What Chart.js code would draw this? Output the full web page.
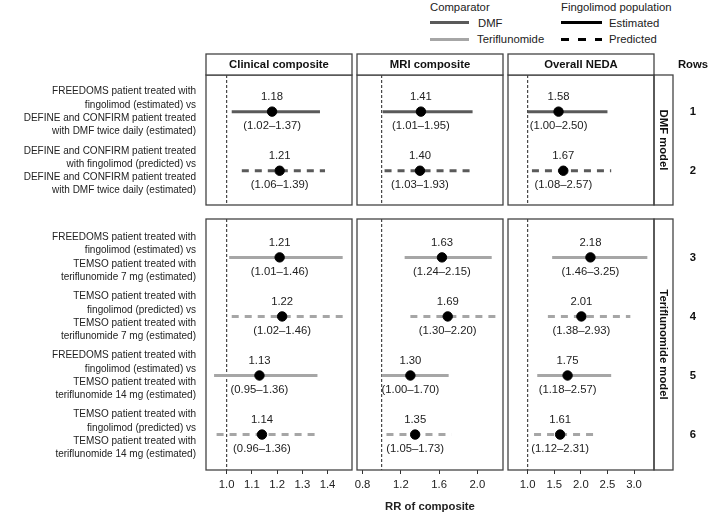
<!DOCTYPE html>
<html>
<head>
<meta charset="utf-8">
<script src="https://cdn.jsdelivr.net/npm/chart.js@4"></script>
<style>
  body { margin: 0; background: #fff; }
  #wrap { position: relative; width: 710px; height: 515px; font-family: 'Liberation Sans', Arial, sans-serif; color: #222; }
  #wrap canvas { position: absolute; }
  .lg { position: absolute; font-size: 11.3px; line-height: 14px; white-space: nowrap; }
  .ln { position: absolute; height: 3px; }
</style>
</head>
<body>
<div id="wrap">
  <div class="lg" style="left:430px; top:0px;">Comparator</div>
  <div class="ln" style="left:430px; top:21px; width:39px; background:#5a5a5a;"></div>
  <div class="lg" style="left:478px; top:16px;">DMF</div>
  <div class="ln" style="left:430px; top:38px; width:39px; background:#a6a6a6;"></div>
  <div class="lg" style="left:477px; top:32px;">Teriflunomide</div>
  <div class="lg" style="left:561px; top:0px;">Fingolimod population</div>
  <div class="ln" style="left:561px; top:21px; width:41px; background:#000;"></div>
  <div class="lg" style="left:609px; top:16px;">Estimated</div>
  <div class="ln" style="left:561px; top:38px; width:41px; background:repeating-linear-gradient(90deg,#000 0 8px,transparent 8px 17px);"></div>
  <div class="lg" style="left:609px; top:32px;">Predicted</div>
</div>
<script>
// rows of the forest plot
const categories = [
  ['FREEDOMS patient treated with', 'fingolimod (estimated) vs', 'DEFINE and CONFIRM patient treated', 'with DMF twice daily (estimated)'],
  ['DEFINE and CONFIRM patient treated', 'with fingolimod (predicted) vs', 'DEFINE and CONFIRM patient treated', 'with DMF twice daily (estimated)'],
  ['FREEDOMS patient treated with', 'fingolimod (estimated) vs', 'TEMSO patient treated with', 'teriflunomide 7 mg (estimated)'],
  ['TEMSO patient treated with', 'fingolimod (predicted) vs', 'TEMSO patient treated with', 'teriflunomide 7 mg (estimated)'],
  ['FREEDOMS patient treated with', 'fingolimod (estimated) vs', 'TEMSO patient treated with', 'teriflunomide 14 mg (estimated)'],
  ['TEMSO patient treated with', 'fingolimod (predicted) vs', 'TEMSO patient treated with', 'teriflunomide 14 mg (estimated)']
];
const rowNumbers = ['1', '2', '3', '4', '5', '6'];
const comparator = ['DMF', 'DMF', 'Teriflunomide', 'Teriflunomide', 'Teriflunomide', 'Teriflunomide'];
const population = ['Estimated', 'Predicted', 'Estimated', 'Predicted', 'Estimated', 'Predicted'];
const facets = ['DMF model', 'Teriflunomide model'];
const facetRows = [[0, 1], [2, 3, 4, 5]];

const panels = ['Clinical composite', 'MRI composite', 'Overall NEDA'];
const clinicalRR   = [1.18, 1.21, 1.21, 1.22, 1.13, 1.14];
const clinicalLow  = [1.02, 1.06, 1.01, 1.02, 0.95, 0.96];
const clinicalHigh = [1.37, 1.39, 1.46, 1.46, 1.36, 1.36];
const mriRR   = [1.41, 1.40, 1.63, 1.69, 1.30, 1.35];
const mriLow  = [1.01, 1.03, 1.24, 1.30, 1.00, 1.05];
const mriHigh = [1.95, 1.93, 2.15, 2.20, 1.70, 1.73];
const nedaRR   = [1.58, 1.67, 2.18, 2.01, 1.75, 1.61];
const nedaLow  = [1.00, 1.08, 1.46, 1.38, 1.18, 1.12];
const nedaHigh = [2.50, 2.57, 3.25, 2.93, 2.57, 2.31];

const clinicalTicks = [1.0, 1.1, 1.2, 1.3, 1.4];
const mriTicks = [0.8, 1.2, 1.6, 2.0];
const nedaTicks = [1.0, 1.5, 2.0, 2.5, 3.0];
const referenceRR = 1;
const xTitle = 'RR of composite';

const colours = { 'DMF': '#5a5a5a', 'Teriflunomide': '#a6a6a6' };
const dashes = { 'Estimated': [], 'Predicted': [7, 6] };

Chart.defaults.font.family = "'Liberation Sans', Arial, sans-serif";
Chart.defaults.color = '#222';

const columns = [
  { rr: clinicalRR, low: clinicalLow, high: clinicalHigh, ticks: clinicalTicks, min: 0.918, max: 1.497, left: 0, width: 353, pad: { left: 0, right: 1 } },
  { rr: mriRR, low: mriLow, high: mriHigh, ticks: mriTicks, min: 0.742, max: 2.268, left: 350, width: 156, pad: { left: 7, right: 3 } },
  { rr: nedaRR, low: nedaLow, high: nedaHigh, ticks: nedaTicks, min: 0.63, max: 3.375, left: 507, width: 203, pad: { left: 1, right: 56 } }
];
const facetBoxes = [
  { top: 53, height: 153, pad: { top: 22, bottom: 1 }, yMin: -0.62, yMax: 1.58 },
  { top: 218, height: 297, pad: { top: 1, bottom: 20 }, yMin: -0.65, yMax: 3.6 }
];

const wrap = document.getElementById('wrap');

// panel border, strips, value labels
const decor = {
  id: 'decor',
  afterDatasetsDraw(chart, args, o) {
    const ctx = chart.ctx;
    const a = chart.chartArea;
    const xs = chart.scales.x, ys = chart.scales.y;
    const col = columns[o.col];
    ctx.save();
    ctx.fillStyle = '#222';
    ctx.font = '11.3px ' + Chart.defaults.font.family;
    ctx.textAlign = 'center';
    ctx.textBaseline = 'middle';
    facetRows[o.facet].forEach((r, i) => {
      const px = xs.getPixelForValue(col.rr[r]);
      const py = ys.getPixelForValue(i);
      ctx.fillText(col.rr[r].toFixed(2), px, py - 14.5);
      ctx.fillText('(' + col.low[r].toFixed(2) + '\u2013' + col.high[r].toFixed(2) + ')', px, py + 14.5);
    });
    ctx.strokeStyle = '#444';
    ctx.lineWidth = 1.3;
    ctx.strokeRect(a.left, a.top, a.right - a.left, a.bottom - a.top);
    const bold = 'bold 11.3px ' + Chart.defaults.font.family;
    if (o.facet === 0) {
      ctx.fillStyle = '#fff';
      ctx.fillRect(a.left, a.top - 21, a.right - a.left, 21);
      ctx.strokeRect(a.left, a.top - 21, a.right - a.left, 21);
      ctx.fillStyle = '#111';
      ctx.font = bold;
      ctx.fillText(panels[o.col], (a.left + a.right) / 2, a.top - 10.5);
    }
    if (o.col === 2) {
      ctx.strokeRect(a.right, a.top, 19, a.bottom - a.top);
      ctx.fillStyle = '#111';
      ctx.font = bold;
      ctx.save();
      ctx.translate(a.right + 9.5, (a.top + a.bottom) / 2);
      ctx.rotate(Math.PI / 2);
      ctx.fillText(facets[o.facet], 0, 0);
      ctx.restore();
      facetRows[o.facet].forEach((r, i) => {
        ctx.fillText(rowNumbers[r], a.right + 39, ys.getPixelForValue(i));
      });
      if (o.facet === 0) ctx.fillText('Rows', a.right + 39, a.top - 10);
    }
    if (o.col === 1 && o.facet === 1) {
      ctx.font = bold;
      ctx.fillText(xTitle, (a.left + a.right) / 2, 289);
    }
    ctx.restore();
  }
};

function makeChart(c, f) {
  const col = columns[c], box = facetBoxes[f];
  const canvas = document.createElement('canvas');
  canvas.width = col.width;
  canvas.height = box.height;
  canvas.style.left = col.left + 'px';
  canvas.style.top = box.top + 'px';
  wrap.appendChild(canvas);

  const rows = facetRows[f];
  const datasets = [{
    type: 'scatter',
    data: rows.map((r, i) => ({ x: col.rr[r], y: i })),
    backgroundColor: '#000', borderColor: '#000',
    pointRadius: 4.7, pointHoverRadius: 4.7, order: 0
  }];
  rows.forEach((r, i) => {
    datasets.push({
      type: 'line',
      data: [{ x: col.low[r], y: i }, { x: col.high[r], y: i }],
      borderColor: colours[comparator[r]],
      borderDash: dashes[population[r]],
      borderWidth: 3, pointRadius: 0, order: 1
    });
  });
  datasets.push({
    type: 'line',
    data: [{ x: referenceRR, y: box.yMin }, { x: referenceRR, y: box.yMax }],
    borderColor: '#222', borderDash: [3, 2], borderWidth: 1, pointRadius: 0, order: 2
  });

  new Chart(canvas, {
    type: 'scatter',
    data: { datasets },
    options: {
      responsive: false,
      animation: false,
      events: [],
      layout: { autoPadding: false, padding: { left: col.pad.left, right: col.pad.right, top: box.pad.top, bottom: box.pad.bottom } },
      plugins: { legend: { display: false }, tooltip: { enabled: false }, decor: { col: c, facet: f } },
      scales: {
        x: {
          type: 'linear', min: col.min, max: col.max,
          display: f === 1,
          afterBuildTicks: (axis) => { axis.ticks = col.ticks.map(v => ({ value: v })); },
          afterFit: (axis) => {
            if (f === 1) axis.height = 25;
            axis.paddingLeft = 0; axis.paddingRight = 0;
          },
          border: { display: false },
          grid: { drawOnChartArea: false, drawTicks: true, tickLength: 4, color: '#333' },
          ticks: { padding: 4, maxRotation: 0, autoSkip: false, font: { size: 11.3 }, color: '#222', callback: v => v.toFixed(1) }
        },
        y: {
          type: 'linear', reverse: true, min: box.yMin, max: box.yMax,
          display: c === 0,
          afterBuildTicks: (axis) => { axis.ticks = rows.map((r, i) => ({ value: i })); },
          afterFit: (axis) => {
            if (c === 0) axis.width = 206;
            axis.paddingTop = 0; axis.paddingBottom = 0;
          },
          border: { display: false },
          grid: { display: false, drawTicks: false },
          ticks: { padding: 10, font: { size: 10, lineHeight: 1.33 }, color: '#222', callback: v => categories[rows[v]] }
        }
      }
    },
    plugins: [decor]
  });
}

for (let f = 0; f < 2; f++) {
  for (let c = 0; c < 3; c++) makeChart(c, f);
}
</script>
</body>
</html>
